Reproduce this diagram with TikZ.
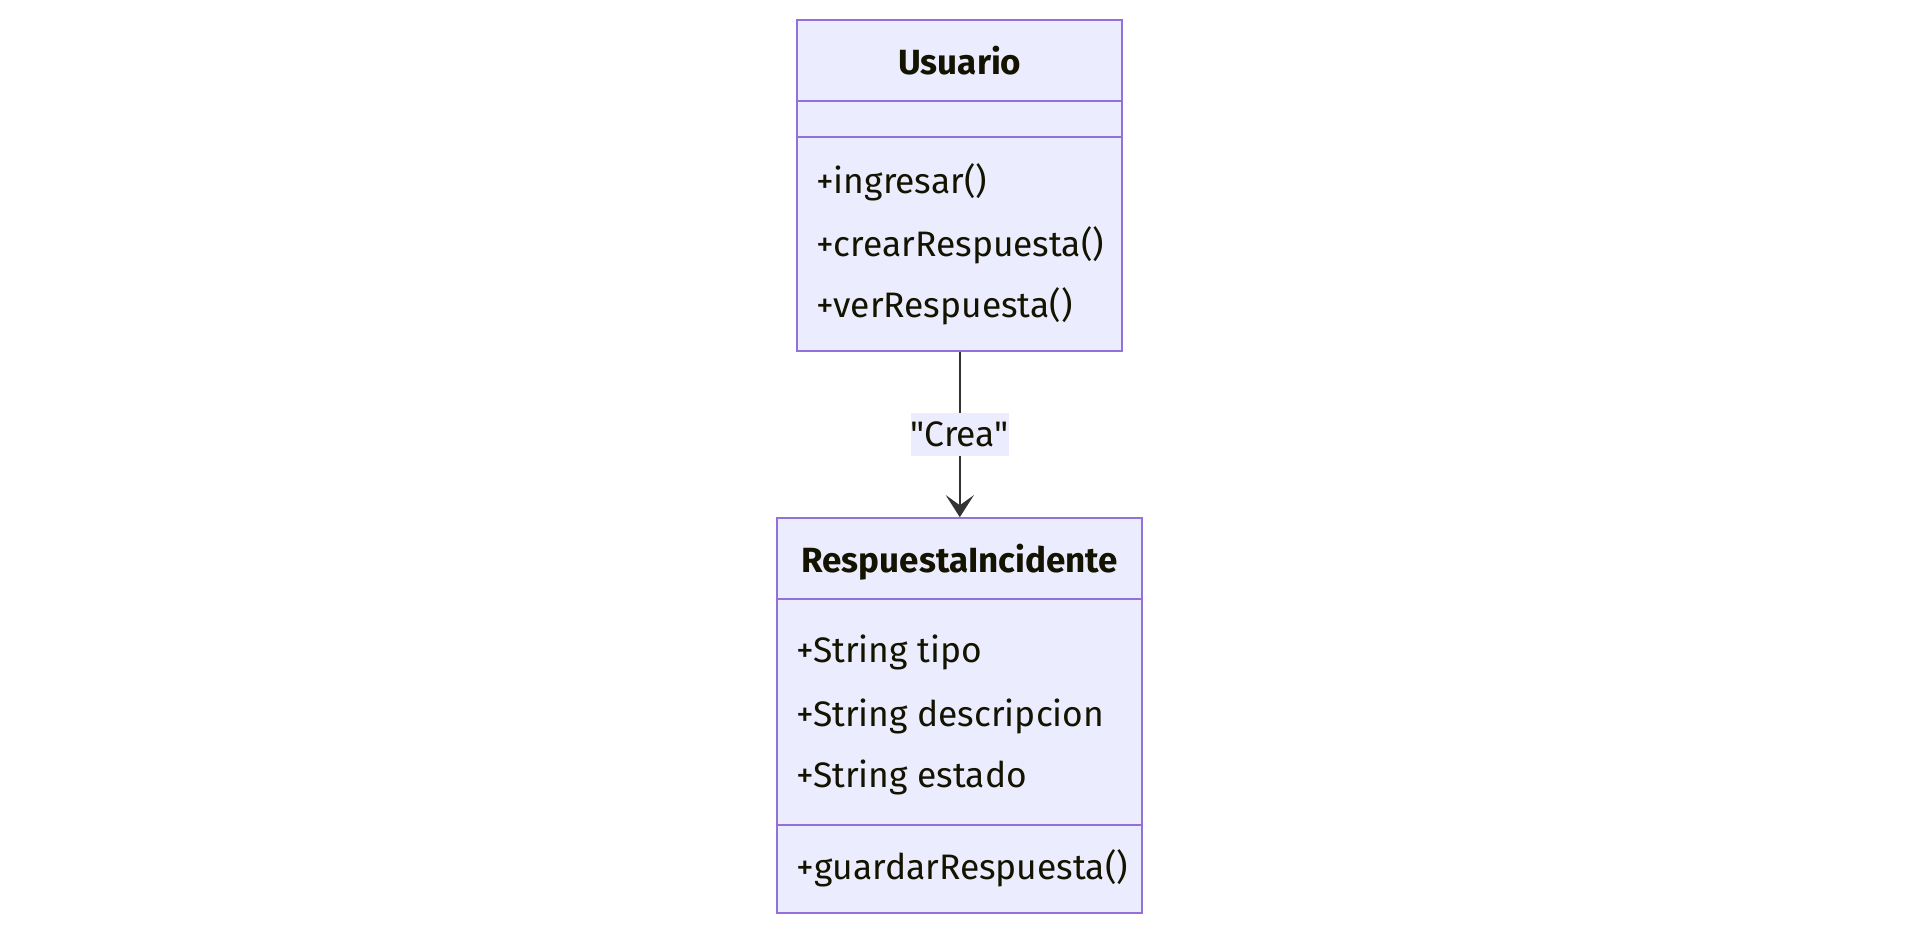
\documentclass[tikz,border=0pt]{standalone}
\usepackage{fontspec}
\setmainfont{Fira Sans}[Ligatures=TeXOff]
\usetikzlibrary{arrows.meta}
\definecolor{boxfill}{HTML}{ECECFF}
\definecolor{boxline}{HTML}{9370DB}
\definecolor{txt}{HTML}{131300}
\definecolor{edge}{HTML}{333333}
\tikzset{
  classbox/.style={draw=boxline, fill=boxfill, line width=2.2pt, rectangle, inner sep=0pt},
  sep/.style={draw=boxline, line width=2.2pt},
  title/.style={anchor=base, inner sep=0pt, text=txt, font=\fontsize{35}{42}\selectfont\bfseries},
  member/.style={anchor=base west, inner sep=0pt, text=txt, font=\fontsize{35.4}{42}\selectfont},
  lbl/.style={fill=boxfill, text=txt, inner sep=0pt, minimum width=97pt, minimum height=43pt, font=\fontsize{35.4}{42}\selectfont},
  rel/.style={draw=edge, line width=2.5pt, -{Stealth[length=22pt, width=28pt, inset=10pt]}}
}
\begin{document}
\begin{tikzpicture}[x=1pt, y=-1pt]
\useasboundingbox (0,0) rectangle (1918,930);
% Usuario
\node[classbox, minimum width=325pt, minimum height=330.7pt] (usuario) at (959.8,185.3) {};
\draw[sep] (usuario.west |- 0,100.7) coordinate (u1) -- (usuario.east |- 0,100.7) coordinate (u2);
\draw[sep] (usuario.west |- 0,136.7) coordinate (u3) -- (usuario.east |- 0,136.7) coordinate (u4);
\node[title] (utitle) at (959.8,74) {Usuario};
\node[member] (um1) at (816,193) {+ingresar()};
\node[member] (um2) at (816,256.5) {+crearRespuesta()};
\node[member] (um3) at (816,317) {+verRespuesta()};
% RespuestaIncidente
\node[classbox, minimum width=365pt, minimum height=395pt] (resp) at (959.8,715.8) {};
\draw[sep] (resp.west |- 0,599.3) coordinate (r1) -- (resp.east |- 0,599.3) coordinate (r2);
\draw[sep] (resp.west |- 0,825) coordinate (r3) -- (resp.east |- 0,825) coordinate (r4);
\node[title] (rtitle) at (959.8,572.7) {RespuestaIncidente};
\node[member] (ra1) at (796.7,662.7) {+String tipo};
\node[member] (ra2) at (796.7,726) {+String descripcion};
\node[member] (ra3) at (796.7,787.3) {+String estado};
\node[member] (rm1) at (796.7,879.3) {+guardarRespuesta()};
% relation
\draw[rel] (usuario.south) -- node[lbl] (crea) {\char34 Crea\char34} (resp.north);
\end{tikzpicture}
\end{document}
